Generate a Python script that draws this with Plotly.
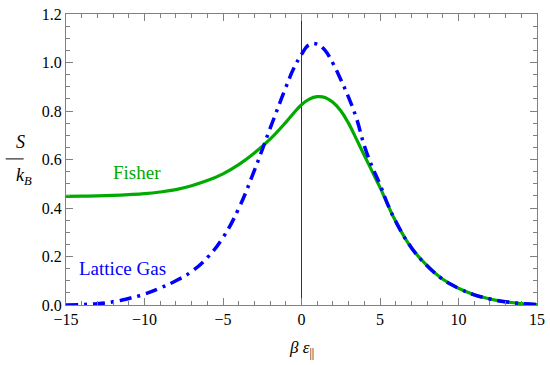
import plotly.graph_objects as go

x_vals = [-15, -14, -13, -12, -11, -10, -9, -8, -7, -6, -5, -4, -3, -2, -1, -0.5, 0,
          0.5, 1, 1.5, 2, 2.5, 3, 3.5, 4, 4.5, 5, 5.5, 6, 7, 8, 9, 10, 11, 12, 13, 14, 15]

fisher = [0.448, 0.449, 0.450, 0.452, 0.455, 0.459, 0.466, 0.476, 0.492, 0.513, 0.541,
          0.579, 0.627, 0.684, 0.753, 0.791, 0.826, 0.849, 0.859, 0.856, 0.836, 0.801,
          0.749, 0.684, 0.617, 0.551, 0.485, 0.413, 0.345, 0.236, 0.162, 0.106, 0.069,
          0.042, 0.025, 0.013, 0.006, 0.002]

lattice_gas = [0.0, 0.002, 0.005, 0.013, 0.027, 0.045, 0.070, 0.100, 0.138, 0.195, 0.278,
               0.398, 0.555, 0.728, 0.897, 0.975, 1.033, 1.074, 1.076, 1.050, 0.997, 0.930,
               0.856, 0.770, 0.657, 0.570, 0.497, 0.414, 0.345, 0.236, 0.162, 0.106, 0.069,
               0.042, 0.025, 0.013, 0.006, 0.002]

x_ticks = [-15, -10, -5, 0, 5, 10, 15]
y_ticks = [0.0, 0.2, 0.4, 0.6, 0.8, 1.0, 1.2]
y_ticklabels = ["0.0", "0.2", "0.4", "0.6", "0.8", "1.0", "1.2"]

GREEN = "#00AA00"
BLUE = "#0000FF"
FONT = "Times New Roman"

fig = go.Figure()
fig.add_trace(go.Scatter(x=x_vals, y=fisher, mode="lines",
                         line=dict(color=GREEN, width=3.2, shape="spline", smoothing=1.2),
                         name="Fisher", showlegend=False))
fig.add_trace(go.Scatter(x=x_vals, y=lattice_gas, mode="lines",
                         line=dict(color=BLUE, width=3.5, dash="12px,6px,3px,6px",
                                   shape="spline", smoothing=1.2),
                         name="Lattice Gas", showlegend=False))

axis_common = dict(showline=True, linecolor="#808080", linewidth=1, mirror="ticks",
                   ticks="inside", tickcolor="#808080", ticklen=7, tickwidth=1,
                   showgrid=False, automargin=False,
                   tickfont=dict(family=FONT, size=16, color="black"))

fig.update_xaxes(range=[-15, 15], tickvals=x_ticks, zeroline=True, zerolinecolor="#333333",
                 zerolinewidth=1,
                 minor=dict(ticks="inside", dtick=1, ticklen=4, tickcolor="#808080"),
                 **axis_common)
fig.update_yaxes(range=[0, 1.2], tickvals=y_ticks, ticktext=y_ticklabels, zeroline=False,
                 minor=dict(ticks="inside", dtick=0.05, ticklen=4, tickcolor="#808080"),
                 **axis_common)

fig.add_annotation(x=-10.5, y=0.545, text="Fisher", showarrow=False,
                   font=dict(family=FONT, size=19, color=GREEN))
fig.add_annotation(x=-11.4, y=0.152, text="Lattice Gas", showarrow=False,
                   font=dict(family=FONT, size=19, color=BLUE))

# x-axis title
fig.add_annotation(xref="paper", yref="paper", x=0.5, y=-0.15, yanchor="middle",
                   text="<i>β ε</i><sub>||</sub>",
                   showarrow=False, font=dict(family=FONT, size=17, color="black"))

# y-axis fraction label S / k_B
fig.add_annotation(xref="paper", yref="paper", x=-0.11, y=0.56, text="<i>S</i>",
                   showarrow=False, font=dict(family=FONT, size=18, color="black"))
fig.add_annotation(xref="paper", yref="paper", x=-0.11, y=0.442, text="<i>k<sub>B</sub></i>",
                   showarrow=False, font=dict(family=FONT, size=18, color="black"))
fig.add_shape(type="line", xref="paper", yref="paper", x0=-0.128, x1=-0.09, y0=0.502, y1=0.502,
              line=dict(color="black", width=1))

fig.update_layout(width=550, height=365, margin=dict(l=66, r=13, t=14, b=60),
                  font=dict(family=FONT),
                  plot_bgcolor="white", paper_bgcolor="white")

fig.write_html("out.html", config={"displayModeBar": False},
               post_script="document.body.style.margin='0';document.body.style.padding='0';")
